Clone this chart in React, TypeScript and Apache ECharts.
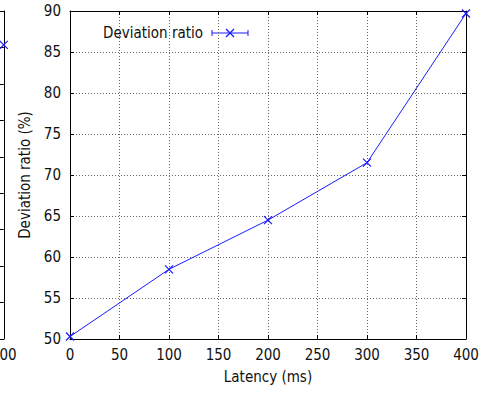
import React, { useEffect, useRef } from "react";
import * as echarts from "echarts";

const latency = [0, 100, 200, 300, 400];
const deviationRatio = [50.3, 58.5, 64.5, 71.5, 89.7];
const xTicks = { min: 0, max: 400, interval: 50 };
const yTicks = { min: 50, max: 90, interval: 5 };
// partial neighbouring panel visible at the left edge
const leftPanelX = [400];
const leftPanelY = [80.7];
const leftPanelXRange = { min: 397, max: 400, interval: 1 };
const leftPanelYRange = { min: 0, max: 90, interval: 10 };

const FONT = "DejaVu Sans Condensed, DejaVu Sans";
const BLUE = "#1a1aff";
const X_SYMBOL = "path://M0,0L10,10M0,10L10,0";

export default function App() {
  const ref = useRef<HTMLDivElement>(null);
  useEffect(() => {
    document.body.style.margin = "0";
    const chart = echarts.init(ref.current!, null, { renderer: "svg" });
    const tick = { show: true, inside: true, length: 4, lineStyle: { color: "#000" } };
    const axisLine = { show: true, onZero: false, lineStyle: { color: "#000", width: 1 } };
    const split = { show: true, lineStyle: { color: "#666", type: [1, 2] as any, width: 1 } };
    const label = { fontFamily: FONT, fontSize: 15, color: "#111" };

    const mainData = latency.map((x, i) => [x, deviationRatio[i]]);
    const leftData = leftPanelX.map((x, i) => [x, leftPanelY[i]]);

    chart.setOption({
      animation: false,
      backgroundColor: "#fff",
      grid: [
        { left: 70, right: 34, top: 11, bottom: 55 },
        { left: 0, top: 11, width: 3, height: 328 },
      ],
      xAxis: [
        {
          gridIndex: 0, type: "value", ...xTicks, position: "bottom",
          axisLine, axisTick: tick, splitLine: split,
          axisLabel: { ...label, margin: 8 },
          name: "Latency (ms)", nameLocation: "middle", nameGap: 30,
          nameTextStyle: { ...label },
        },
        {
          gridIndex: 0, type: "value", ...xTicks, position: "top",
          axisLine, axisTick: tick, splitLine: { show: false }, axisLabel: { show: false },
        },
        {
          gridIndex: 1, type: "value", ...leftPanelXRange, position: "bottom",
          axisLine, axisTick: { show: false }, splitLine: { show: false },
          axisLabel: { ...label, margin: 8, formatter: (v: number) => (v === 400 ? "400" : "") },
        },
        {
          gridIndex: 1, type: "value", ...leftPanelXRange, position: "top",
          axisLine, axisTick: { show: false }, splitLine: { show: false }, axisLabel: { show: false },
        },
      ],
      yAxis: [
        {
          gridIndex: 0, type: "value", ...yTicks, position: "left",
          axisLine, axisTick: tick, splitLine: split,
          axisLabel: { ...label, margin: 9 },
          name: "Deviation ratio (%)", nameLocation: "middle", nameGap: 38,
          nameTextStyle: { ...label },
        },
        {
          gridIndex: 0, type: "value", ...yTicks, position: "right",
          axisLine, axisTick: tick, splitLine: { show: false }, axisLabel: { show: false },
        },
        {
          gridIndex: 1, type: "value", ...leftPanelYRange, position: "right",
          axisLine, axisTick: tick, splitLine: { show: false }, axisLabel: { show: false },
        },
      ],
      series: [
        {
          type: "line", xAxisIndex: 0, yAxisIndex: 0, data: mainData,
          lineStyle: { color: BLUE, width: 1 },
          symbol: X_SYMBOL, symbolSize: 8, showAllSymbol: true,
          itemStyle: { color: BLUE, borderColor: BLUE, borderWidth: 1.2 },
          clip: false,
        },
        {
          type: "line", xAxisIndex: 2, yAxisIndex: 2, data: leftData,
          lineStyle: { color: BLUE, width: 1 },
          symbol: X_SYMBOL, symbolSize: 8,
          itemStyle: { color: BLUE, borderColor: BLUE, borderWidth: 1.2 },
          clip: false,
        },
      ],
      graphic: [
        {
          type: "text", x: 203, y: 33,
          style: { text: "Deviation ratio", fontFamily: FONT, fontSize: 15, fill: "#111", align: "right", verticalAlign: "middle" },
        },
        { type: "line", shape: { x1: 212, y1: 33, x2: 248, y2: 33 }, style: { stroke: BLUE, lineWidth: 1 } },
        { type: "line", shape: { x1: 212, y1: 30, x2: 212, y2: 36 }, style: { stroke: BLUE, lineWidth: 1 } },
        { type: "line", shape: { x1: 248, y1: 30, x2: 248, y2: 36 }, style: { stroke: BLUE, lineWidth: 1 } },
        { type: "line", shape: { x1: 226, y1: 29, x2: 234, y2: 37 }, style: { stroke: BLUE, lineWidth: 1.2 } },
        { type: "line", shape: { x1: 226, y1: 37, x2: 234, y2: 29 }, style: { stroke: BLUE, lineWidth: 1.2 } },
      ],
    });
    return () => chart.dispose();
  }, []);
  return <div ref={ref} style={{ width: 500, height: 394 }} />;
}
